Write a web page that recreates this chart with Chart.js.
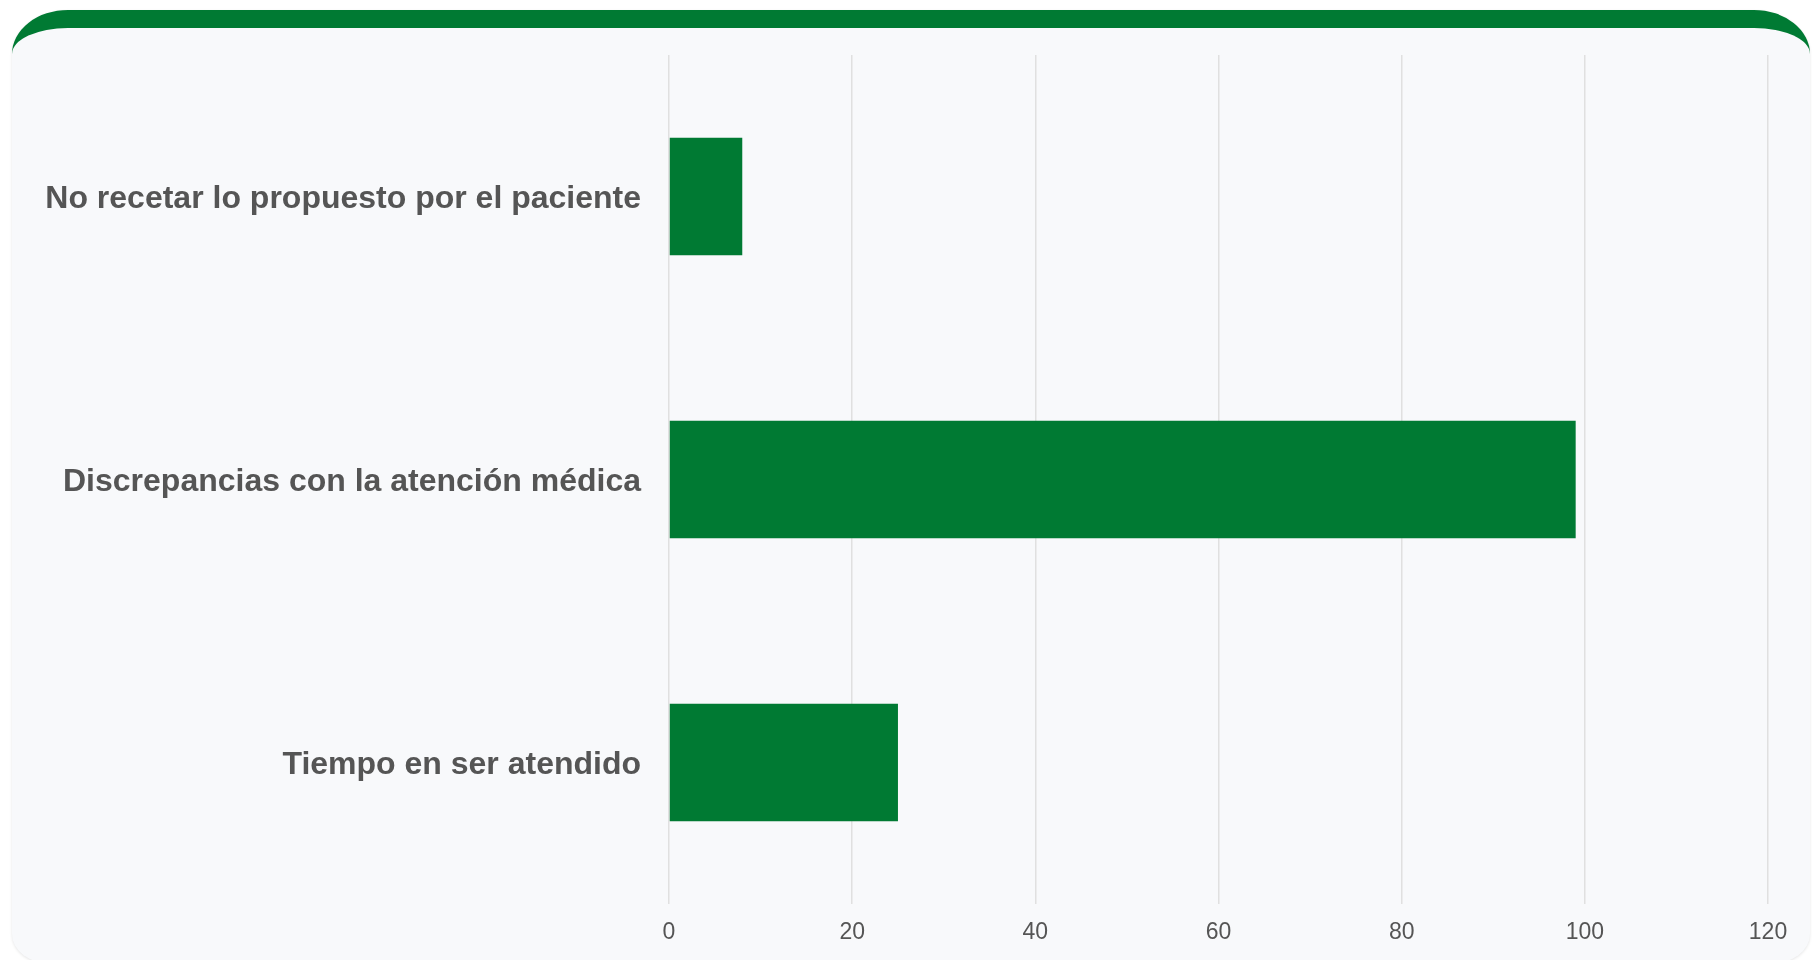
<!DOCTYPE html>
<html lang="es">
<head>
<meta charset="utf-8">
<title>Motivos de queja</title>
<script src="https://cdn.jsdelivr.net/npm/chart.js@4.4.1/dist/chart.umd.min.js"></script>
<style>
    html, body {
        margin: 0;
        padding: 0;
        width: 1812px;
        height: 960px;
        background: #ffffff;
        overflow: hidden;
    }
    .card {
        position: absolute;
        left: 12px;
        top: 10px;
        width: 1798px;
        height: 954px;
        box-sizing: border-box;
        background: #f8f9fb;
        border-top: 18px solid #007a33;
        border-radius: 56px 56px 40px 40px / 44px 44px 30px 30px;
        box-shadow: 0 1px 3px rgba(0, 0, 0, 0.10);
    }
    #chart-wrap {
        position: absolute;
        left: 0;
        top: 0;
        width: 1812px;
        height: 960px;
    }
</style>
</head>
<body>
<div class="card"></div>
<div id="chart-wrap">
    <canvas id="chart"></canvas>
</div>
<script>
// datos
const categories = [
    'No recetar lo propuesto por el paciente',
    'Discrepancias con la atención médica',
    'Tiempo en ser atendido'
];
const counts = [8, 99, 25];
const axisMin = 0;
const axisMax = 120;
const axisStep = 20;

const green = '#007a33';
const labelFont = '"Liberation Sans", Arial, Helvetica, sans-serif';

new Chart(document.getElementById('chart'), {
    type: 'bar',
    data: {
        labels: categories,
        datasets: [{
            label: 'Quejas',
            data: counts,
            backgroundColor: green,
            borderWidth: 0,
            barPercentage: 1,
            categoryPercentage: 0.416
        }]
    },
    options: {
        indexAxis: 'y',
        responsive: true,
        maintainAspectRatio: false,
        animation: false,
        layout: {
            padding: { top: 55, right: 44, bottom: 0, left: 0 }
        },
        plugins: {
            legend: { display: false },
            tooltip: { enabled: false }
        },
        scales: {
            x: {
                min: axisMin,
                max: axisMax,
                ticks: {
                    stepSize: axisStep,
                    color: '#555555',
                    padding: 15,
                    font: { family: labelFont, size: 23 }
                },
                grid: {
                    color: '#e0e0e0',
                    lineWidth: 1.5,
                    drawTicks: false
                },
                border: { display: false },
                afterFit(scale) {
                    scale.height = 56;
                }
            },
            y: {
                ticks: {
                    color: '#555555',
                    padding: 28,
                    labelOffset: 3,
                    font: { family: labelFont, size: 32, weight: 'bold' }
                },
                grid: { display: false, drawTicks: false },
                border: { display: false },
                afterFit(scale) {
                    scale.width = 669;
                }
            }
        }
    }
});
</script>
</body>
</html>
